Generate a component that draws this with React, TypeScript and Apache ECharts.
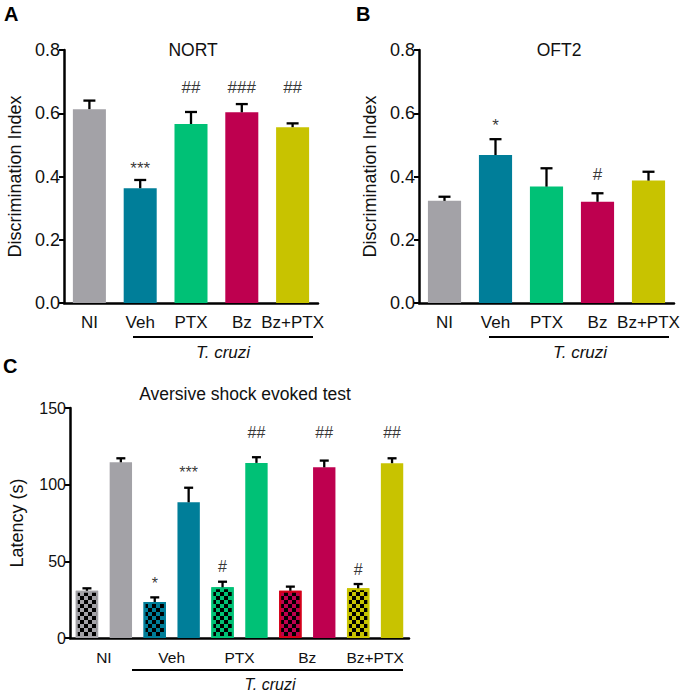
import React, { useEffect, useRef } from "react";
import * as echarts from "echarts";

// ---- Data ----
const groupsAB = ["NI", "Veh", "PTX", "Bz", "Bz+PTX"];
// Panel A: NORT
const nortMean = [0.613, 0.363, 0.566, 0.603, 0.556];
const nortErrTop = [0.64, 0.389, 0.604, 0.629, 0.568];
const nortMarks = ["", "***", "##", "###", "##"];
const nortMarkY = [null, 0.425, 0.683, 0.683, 0.683];
// Panel B: OFT2
const oftMean = [0.323, 0.468, 0.368, 0.32, 0.387];
const oftErrTop = [0.336, 0.518, 0.426, 0.347, 0.415];
const oftMarks = ["", "*", "", "#", ""];
const oftMarkY = [null, 0.56, null, 0.405, null];
// Panel C: Aversive shock evoked test (pairs: checkered, solid)
const groupsC = ["NI", "Veh", "PTX", "Bz", "Bz+PTX"];
const barsC = ["NI-a", "NI-b", "Veh-a", "Veh-b", "PTX-a", "PTX-b", "Bz-a", "Bz-b", "BzPTX-a", "BzPTX-b"];
const latMean = [30.8, 114.6, 23.5, 88.5, 33.1, 114.2, 30.8, 111.3, 32.4, 114];
const latErrTop = [32.4, 117.2, 26.5, 98, 36.7, 117.9, 33.5, 115.7, 35.2, 117.2];
const latMarks = ["", "", "*", "***", "#", "##", "", "##", "#", "##"];
const latMarkY = [null, null, 35.5, 108, 46.5, 134, null, 134, 44.5, 134];

const yTicksAB = ["0.0", "0.2", "0.4", "0.6", "0.8"];

const colors = ["#a3a2a7", "#007e99", "#00c176", "#be004f", "#c8c300"];
const FONT = "'Liberation Sans', Arial, sans-serif";

export default function App() {
  const ref = useRef<HTMLDivElement>(null);
  useEffect(() => {
    document.body.style.margin = "0";
    const chart = echarts.init(ref.current!, undefined, { renderer: "svg" });

    const errSeries = (xi: number, yi: number, means: number[], tops: number[], cap: number, lw: number) => ({
      type: "custom",
      xAxisIndex: xi,
      yAxisIndex: yi,
      z: 5,
      silent: true,
      data: means.map((m, i) => [i, m, tops[i]]),
      renderItem: (params: any, api: any) => {
        const p1 = api.coord([api.value(0), api.value(1)]);
        const p2 = api.coord([api.value(0), api.value(2)]);
        const st = { stroke: "#000", lineWidth: lw };
        return {
          type: "group",
          children: [
            { type: "line", shape: { x1: p1[0], y1: p1[1], x2: p2[0], y2: p2[1] }, style: st },
            { type: "line", shape: { x1: p2[0] - cap, y1: p2[1], x2: p2[0] + cap, y2: p2[1] }, style: st },
          ],
        };
      },
    });

    const markSeries = (xi: number, yi: number, marks: string[], ys: (number | null)[], size: number) => ({
      type: "scatter",
      xAxisIndex: xi,
      yAxisIndex: yi,
      symbolSize: 1,
      itemStyle: { color: "rgba(0,0,0,0)" },
      silent: true,
      z: 6,
      data: marks
        .map((t, i) => (t && ys[i] != null ? [i, ys[i], t] : null))
        .filter((d) => d !== null),
      label: {
        show: true,
        position: "inside",
        formatter: (p: any) => p.value[2],
        color: "#000",
        fontFamily: FONT,
        fontSize: size,
      },
    });

    const yAxisAB = (gi: number) => ({
      type: "value",
      gridIndex: gi,
      min: 0,
      max: 0.8,
      interval: 0.2,
      name: "Discrimination Index",
      nameLocation: "middle",
      nameRotate: 90,
      nameGap: 40,
      nameTextStyle: { fontFamily: FONT, fontSize: 18, color: "#111" },
      axisLine: { show: true, lineStyle: { color: "#000", width: 2.5 } },
      axisTick: { show: true, length: 5, lineStyle: { color: "#000", width: 2 } },
      axisLabel: {
        formatter: (v: number) => yTicksAB[Math.round(v / 0.2)],
        fontFamily: FONT,
        fontSize: 18,
        color: "#111",
        margin: 4,
      },
      splitLine: { show: false },
    });

    const xAxisAB = (gi: number) => ({
      type: "category",
      gridIndex: gi,
      data: groupsAB,
      axisLine: { lineStyle: { color: "#000", width: 2.5 } },
      axisTick: { show: false },
      axisLabel: { fontFamily: FONT, fontSize: 17, color: "#111", margin: 11, interval: 0 },
    });

    const checker = {
      symbol: "rect",
      symbolSize: 1,
      color: "#000",
      dashArrayX: [[4, 4], [0, 4, 4, 0]],
      dashArrayY: [4, 0],
    };

    const barCData = latMean.map((v, i) => {
      const g = Math.floor(i / 2);
      const isCheck = i % 2 === 0;
      const item: any = { value: v, itemStyle: { color: colors[g] } };
      if (isCheck) {
        item.itemStyle.decal = checker;
        item.itemStyle.borderColor = g === 3 ? "#d4001a" : colors[g];
        item.itemStyle.borderWidth = 2;
      }
      return item;
    });

    const option: any = {
      animation: false,
      backgroundColor: "#fff",
      textStyle: { fontFamily: FONT },
      grid: [
        { left: 64, top: 50, width: 254, height: 253 },
        { left: 419, top: 50, width: 255, height: 253 },
        { left: 61, top: 408, width: 348, height: 230 },
      ],
      title: [
        { text: "NORT", left: 188, top: 36, textAlign: "center", textStyle: { fontFamily: FONT, fontSize: 17.5, fontWeight: "normal", color: "#111" } },
        { text: "OFT2", left: 554, top: 36, textAlign: "center", textStyle: { fontFamily: FONT, fontSize: 17.5, fontWeight: "normal", color: "#111" } },
        { text: "Aversive shock evoked test", left: 240, top: 380, textAlign: "center", textStyle: { fontFamily: FONT, fontSize: 17.5, fontWeight: "normal", color: "#111" } },
      ],
      xAxis: [
        xAxisAB(0),
        xAxisAB(1),
        {
          type: "category",
          gridIndex: 2,
          data: barsC,
          axisLine: { lineStyle: { color: "#000", width: 2.5 } },
          axisTick: { show: false },
          axisLabel: { show: false },
        },
        {
          type: "category",
          gridIndex: 2,
          data: groupsC,
          position: "bottom",
          axisLine: { show: false },
          axisTick: { show: false },
          axisLabel: { fontFamily: FONT, fontSize: 15.5, color: "#111", margin: 11, interval: 0 },
        },
      ],
      yAxis: [
        yAxisAB(0),
        yAxisAB(1),
        {
          type: "value",
          gridIndex: 2,
          min: 0,
          max: 150,
          interval: 50,
          name: "Latency (s)",
          nameLocation: "middle",
          nameRotate: 90,
          nameGap: 44,
          nameTextStyle: { fontFamily: FONT, fontSize: 18, color: "#111" },
          axisLine: { show: true, lineStyle: { color: "#000", width: 2.5 } },
          axisTick: { show: true, length: 5, lineStyle: { color: "#000", width: 2 } },
          axisLabel: { fontFamily: FONT, fontSize: 16, color: "#111", margin: 4 },
          splitLine: { show: false },
        },
      ],
      series: [
        {
          type: "bar",
          xAxisIndex: 0,
          yAxisIndex: 0,
          barWidth: "65%",
          data: nortMean.map((v, i) => ({ value: v, itemStyle: { color: colors[i] } })),
        },
        errSeries(0, 0, nortMean, nortErrTop, 6, 2.3),
        markSeries(0, 0, nortMarks, nortMarkY, 17),
        {
          type: "bar",
          xAxisIndex: 1,
          yAxisIndex: 1,
          barWidth: "65%",
          data: oftMean.map((v, i) => ({ value: v, itemStyle: { color: colors[i] } })),
        },
        errSeries(1, 1, oftMean, oftErrTop, 6, 2.3),
        markSeries(1, 1, oftMarks, oftMarkY, 17),
        {
          type: "bar",
          xAxisIndex: 2,
          yAxisIndex: 2,
          barWidth: "66%",
          data: barCData,
        },
        errSeries(2, 2, latMean, latErrTop, 4.5, 2.3),
        markSeries(2, 2, latMarks, latMarkY, 16),
      ],
      graphic: [
        { type: "text", left: 4, top: 4, style: { text: "A", fontFamily: FONT, fontSize: 20, fontWeight: "bold", fill: "#000" } },
        { type: "text", left: 356, top: 4, style: { text: "B", fontFamily: FONT, fontSize: 20, fontWeight: "bold", fill: "#000" } },
        { type: "text", left: 3, top: 356, style: { text: "C", fontFamily: FONT, fontSize: 20, fontWeight: "bold", fill: "#000" } },
        { type: "line", shape: { x1: 133, y1: 337, x2: 313, y2: 337 }, style: { stroke: "#000", lineWidth: 2 } },
        { type: "text", x: 223, y: 352, style: { text: "T. cruzi", fontFamily: FONT, fontSize: 17, fontStyle: "italic", fill: "#111", align: "center", verticalAlign: "middle" } },
        { type: "line", shape: { x1: 489, y1: 337, x2: 669, y2: 337 }, style: { stroke: "#000", lineWidth: 2 } },
        { type: "text", x: 580, y: 352, style: { text: "T. cruzi", fontFamily: FONT, fontSize: 17, fontStyle: "italic", fill: "#111", align: "center", verticalAlign: "middle" } },
        { type: "line", shape: { x1: 132, y1: 670, x2: 403, y2: 670 }, style: { stroke: "#000", lineWidth: 2 } },
        { type: "text", x: 270, y: 684, style: { text: "T. cruzi", fontFamily: FONT, fontSize: 16, fontStyle: "italic", fill: "#111", align: "center", verticalAlign: "middle" } },
      ],
    };
    chart.setOption(option);
    return () => chart.dispose();
  }, []);
  return <div ref={ref} style={{ width: 684, height: 692 }} />;
}
